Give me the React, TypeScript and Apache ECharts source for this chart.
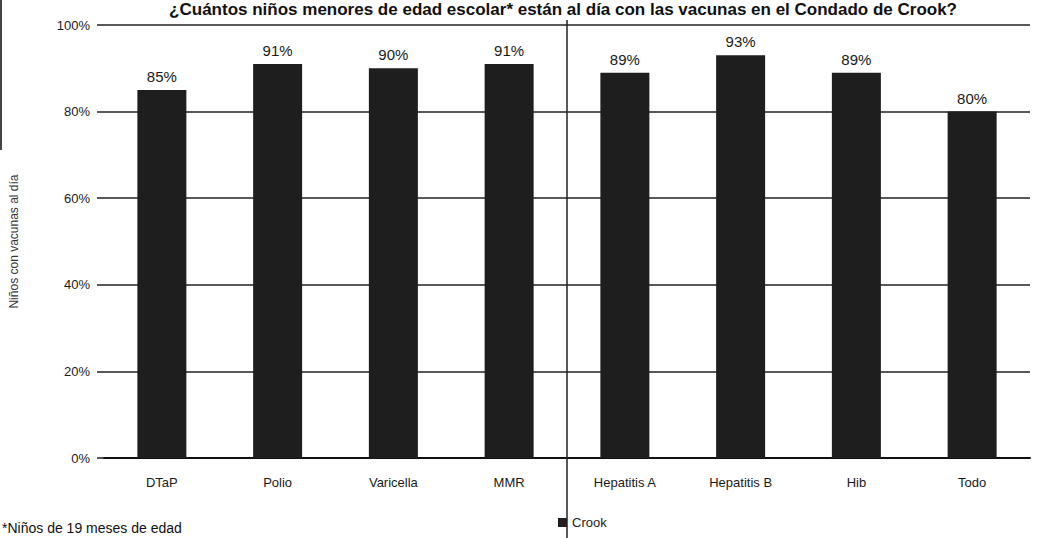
import React, { useEffect, useRef } from "react";
import * as echarts from "echarts";

const categories = ["DTaP", "Polio", "Varicella", "MMR", "Hepatitis A", "Hepatitis B", "Hib", "Todo"];
const crookValues = [85, 91, 90, 91, 89, 93, 89, 80];
const yTicks = [0, 20, 40, 60, 80, 100];
const seriesName = "Crook";
const titleText = "¿Cuántos niños menores de edad escolar* están al día con las vacunas en el Condado de Crook?";
const footnoteText = "*Niños de 19 meses de edad";
const yAxisName = "Niños con vacunas al día";

const FONT = "Liberation Sans, Arial, sans-serif";

export default function App() {
  const ref = useRef<HTMLDivElement>(null);
  useEffect(() => {
    if (!ref.current) return;
    const chart = echarts.init(ref.current, undefined, { renderer: "svg" });
    chart.setOption({
      animation: false,
      backgroundColor: "#ffffff",
      textStyle: { fontFamily: FONT },
      grid: { left: 102, right: 15, top: 25, bottom: 80 },
      legend: {
        data: [seriesName],
        left: 553,
        top: 511,
        icon: "rect",
        itemWidth: 9,
        itemHeight: 9,
        itemGap: 6,
        textStyle: { fontSize: 13, color: "#222", fontFamily: FONT },
      },
      xAxis: {
        type: "category",
        data: categories,
        axisLine: { lineStyle: { color: "#111", width: 2 } },
        axisTick: { alignWithLabel: true, length: 6, lineStyle: { color: "#222" } },
        axisLabel: { fontSize: 13, color: "#1a1a1a", margin: 18, fontFamily: FONT },
      },
      yAxis: {
        type: "value",
        min: yTicks[0],
        max: yTicks[yTicks.length - 1],
        interval: 20,
        name: yAxisName,
        nameLocation: "middle",
        nameGap: 84,
        nameRotate: 90,
        nameTextStyle: { fontSize: 12, color: "#333", fontFamily: FONT },
        axisLine: { show: false },
        axisTick: { show: true, length: 7, lineStyle: { color: "#222", width: 1.5 } },
        axisLabel: { fontSize: 13, color: "#1a1a1a", margin: 14, formatter: "{value}%", fontFamily: FONT },
        splitLine: { lineStyle: { color: "#222", width: 1.5 } },
      },
      series: [
        {
          name: seriesName,
          type: "bar",
          data: crookValues,
          barWidth: 49,
          itemStyle: { color: "#1e1e1e" },
          label: {
            show: true,
            position: "top",
            distance: 6,
            formatter: "{c}%",
            fontSize: 15,
            color: "#1a1a1a",
            fontFamily: FONT,
          },
        },
      ],
      graphic: [
        {
          type: "text",
          right: 88,
          top: 1,
          style: { text: titleText, fontSize: 17, fontWeight: "bold", fill: "#111", fontFamily: FONT },
        },
        {
          type: "text",
          left: 2,
          top: 521,
          style: { text: footnoteText, fontSize: 14, fill: "#111", fontFamily: FONT },
        },
        {
          type: "line",
          shape: { x1: 567, y1: 20, x2: 567, y2: 538 },
          style: { stroke: "#222", lineWidth: 1.5 },
          z: 10,
        },
        {
          type: "line",
          shape: { x1: 1, y1: 0, x2: 1, y2: 150 },
          style: { stroke: "#444", lineWidth: 2 },
        },
      ],
    });
    return () => chart.dispose();
  }, []);
  return <div ref={ref} style={{ position: "fixed", left: 0, top: 0, width: 1045, height: 538 }} />;
}
